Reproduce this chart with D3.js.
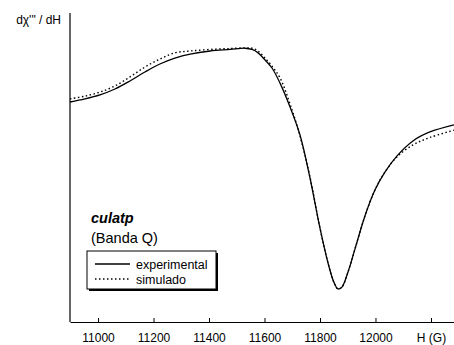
<!DOCTYPE html>
<html>
<head>
<meta charset="utf-8">
<script src="https://cdn.jsdelivr.net/npm/d3@7"></script>
<style>
  body { margin: 0; background: #fff; }
  svg { font-family: "Liberation Sans", Arial, sans-serif; }
</style>
</head>
<body>
<svg id="chart" width="454" height="345"></svg>
<script>
// campo (G) y señal (u.a.)
const campo = [10899, 10953, 11007, 11061, 11115, 11169, 11223, 11277, 11332, 11404, 11476, 11530, 11555, 11577, 11602, 11627, 11656, 11692, 11728, 11764, 11800, 11829, 11850, 11865, 11879, 11901, 11926, 11962, 11998, 12034, 12077, 12135, 12196, 12283];

const yExp = [71.2, 72.2, 73.5, 75.4, 78.0, 80.9, 83.5, 85.4, 86.7, 87.7, 88.2, 88.6, 88.2, 87.1, 84.8, 82.2, 77.3, 69.6, 60.5, 46.6, 30.4, 19.1, 12.9, 10.7, 11.3, 16.2, 23.6, 34.3, 42.7, 48.5, 53.7, 58.6, 61.5, 63.8];

const ySim = [72.2, 73.1, 74.4, 76.4, 79.3, 82.5, 85.1, 87.1, 87.7, 88.2, 88.5, 88.7, 88.6, 87.7, 85.4, 82.8, 79.0, 70.6, 60.2, 46.9, 30.4, 19.1, 12.9, 10.7, 11.3, 16.2, 23.6, 34.3, 42.7, 48.5, 53.4, 57.3, 59.7, 62.1];

const xTicks = [11000, 11200, 11400, 11600, 11800, 12000, 12200];

const width = 454;
const height = 345;
const margin = { top: 13, right: 0, bottom: 23, left: 70 };

const svg = d3.select("#chart");

const x = d3.scaleLinear()
    .domain([10899, 12283])
    .range([margin.left, width - margin.right]);

const y = d3.scaleLinear()
    .domain([0, 100])
    .range([height - margin.bottom, margin.top]);

// ejes
svg.append("line")
    .attr("x1", margin.left).attr("x2", margin.left)
    .attr("y1", margin.top).attr("y2", height - margin.bottom)
    .attr("stroke", "#000").attr("stroke-width", 1.2);

const xAxis = svg.append("g")
    .attr("transform", `translate(0,${height - margin.bottom})`)
    .call(d3.axisBottom(x)
        .tickValues(xTicks)
        .tickSizeInner(-4)
        .tickSizeOuter(0)
        .tickPadding(11)
        .tickFormat(d => d === 12200 ? "H (G)" : d));

xAxis.select(".domain").attr("stroke-width", 1.2);
xAxis.selectAll("text")
    .attr("font-size", 12)
    .attr("font-family", "Liberation Sans, Arial, sans-serif")
    .attr("fill", "#000");

svg.append("text")
    .attr("x", 61)
    .attr("y", 24)
    .attr("text-anchor", "end")
    .attr("font-size", 12)
    .text("dχ'\" / dH");

// curvas
const line = d3.line()
    .x(d => x(d[0]))
    .y(d => y(d[1]))
    .curve(d3.curveCatmullRom.alpha(0.5));

svg.append("path")
    .datum(d3.zip(campo, ySim))
    .attr("fill", "none")
    .attr("stroke", "#000")
    .attr("stroke-width", 1.4)
    .attr("stroke-dasharray", "1.5,2.5")
    .attr("d", line);

svg.append("path")
    .datum(d3.zip(campo, yExp))
    .attr("fill", "none")
    .attr("stroke", "#000")
    .attr("stroke-width", 1.3)
    .attr("d", line);

// leyenda
svg.append("text")
    .attr("x", 91)
    .attr("y", 223)
    .attr("font-size", 14.5)
    .attr("font-weight", "bold")
    .attr("font-style", "italic")
    .text("culatp");

svg.append("text")
    .attr("x", 91)
    .attr("y", 243)
    .attr("font-size", 14.5)
    .text("(Banda Q)");

svg.append("rect")
    .attr("x", 89).attr("y", 253)
    .attr("width", 129).attr("height", 38)
    .attr("fill", "#000");
svg.append("rect")
    .attr("x", 87).attr("y", 251)
    .attr("width", 129).attr("height", 38)
    .attr("fill", "#fff")
    .attr("stroke", "#000")
    .attr("stroke-width", 1);

const legendItems = [
    { label: "experimental", dash: null, y: 264 },
    { label: "simulado", dash: "1.5,2.5", y: 279 }
];

legendItems.forEach(it => {
    svg.append("line")
        .attr("x1", 95).attr("x2", 130)
        .attr("y1", it.y).attr("y2", it.y)
        .attr("stroke", "#000")
        .attr("stroke-width", 1.3)
        .attr("stroke-dasharray", it.dash);
    svg.append("text")
        .attr("x", 136)
        .attr("y", it.y + 4.5)
        .attr("font-size", 12.5)
        .text(it.label);
});
</script>
</body>
</html>
